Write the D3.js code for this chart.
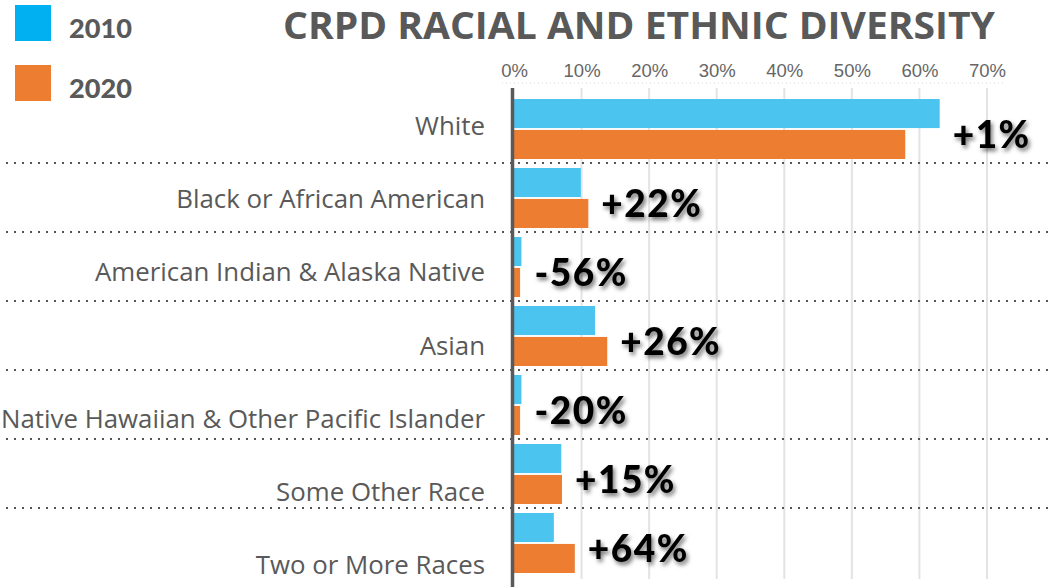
<!DOCTYPE html>
<html>
<head>
<meta charset="utf-8">
<script src="https://cdn.jsdelivr.net/npm/d3@7"></script>
<style>
  body { margin: 0; background: #fff; }
  svg { display: block; }
</style>
</head>
<body>
<div id="chart"></div>
<script>
// data (share of population, %)
var categories = [
  "White",
  "Black or African American",
  "American Indian & Alaska Native",
  "Asian",
  "Native Hawaiian & Other Pacific Islander",
  "Some Other Race",
  "Two or More Races"
];
var years = ["2010", "2020"];
var values2010 = [63.0, 9.9, 1.1, 12.0, 1.1, 7.0, 5.9];
var values2020 = [57.9, 11.0, 0.9, 13.8, 0.9, 7.1, 9.0];
var changeLabels = ["+1%", "+22%", "-56%", "+26%", "-20%", "+15%", "+64%"];
var tickValues = [0, 10, 20, 30, 40, 50, 60, 70];
var titleText = "CRPD RACIAL AND ETHNIC DIVERSITY";

var svgWidth = 1048;
var svgHeight = 587;

var barColors = { "2010": "#4bc5f0", "2020": "#ed7d31" };
var legendColors = { "2010": "#00b0f0", "2020": "#ed7d31" };

var svg = d3.select("#chart")
  .append("svg")
  .attr("width", svgWidth)
  .attr("height", svgHeight);

// drop shadow for the change labels
var defs = svg.append("defs");
defs.append("filter")
  .attr("id", "shadow")
  .attr("x", "-20%").attr("y", "-30%")
  .attr("width", "150%").attr("height", "170%")
  .append("feDropShadow")
  .attr("dx", 2)
  .attr("dy", 3)
  .attr("stdDeviation", 2.2)
  .attr("flood-color", "#000")
  .attr("flood-opacity", 0.55);

// scales
var xScale = d3.scaleLinear()
  .domain([0, 70])
  .range([514, 987]);

var yScale = d3.scaleBand()
  .domain(categories)
  .range([95, 578])
  .padding(0);

var yInner = d3.scaleBand()
  .domain(years)
  .range([4, 64])
  .paddingInner(0.06);

// category labels sit on their own slightly wider grid
var labelScale = d3.scalePoint()
  .domain(categories)
  .range([126, 565]);

// gridlines
svg.append("g")
  .selectAll("line")
  .data(tickValues.slice(1))
  .enter()
  .append("line")
  .attr("x1", d => xScale(d))
  .attr("x2", d => xScale(d))
  .attr("y1", 88)
  .attr("y2", 579)
  .attr("stroke", "#e3e3e3")
  .attr("stroke-width", 2);

// top axis with tick labels
var topAxis = d3.axisTop(xScale)
  .tickValues(tickValues)
  .tickFormat(d => d + "%")
  .tickSize(0)
  .tickPadding(0);

var axisG = svg.append("g")
  .attr("transform", "translate(0, 77)")
  .call(topAxis);
axisG.select(".domain").remove();
axisG.selectAll("text")
  .attr("font-family", "Liberation Sans, Arial, sans-serif")
  .attr("font-size", "18.5px")
  .attr("fill", "#666");

// faint dotted rule under the tick labels
svg.append("line")
  .attr("x1", xScale(0) - 12)
  .attr("x2", xScale(70) + 18)
  .attr("y1", 83)
  .attr("y2", 83)
  .attr("stroke", "#d8d8d8")
  .attr("stroke-width", 1)
  .attr("stroke-dasharray", "1,3");

// row separators
svg.append("g")
  .selectAll("line")
  .data(categories.slice(1))
  .enter()
  .append("line")
  .attr("x1", 6)
  .attr("x2", 1048)
  .attr("y1", d => yScale(d) - 1)
  .attr("y2", d => yScale(d) - 1)
  .attr("stroke", "#555")
  .attr("stroke-width", 2)
  .attr("stroke-dasharray", "2,6");

// bars
var rows = categories.map(function(c, i) {
  return { cat: c, "2010": values2010[i], "2020": values2020[i], change: changeLabels[i] };
});

var rowGroups = svg.append("g")
  .selectAll("g")
  .data(rows)
  .enter()
  .append("g")
  .attr("transform", d => `translate(0, ${yScale(d.cat)})`);

rowGroups.selectAll("rect")
  .data(d => years.map(y => ({ year: y, value: d[y] })))
  .enter()
  .append("rect")
  .attr("x", xScale(0))
  .attr("y", d => yInner(d.year))
  .attr("width", d => xScale(d.value) - xScale(0))
  .attr("height", yInner.bandwidth())
  .attr("fill", d => barColors[d.year]);

// vertical axis line
svg.append("line")
  .attr("x1", 512.5)
  .attr("x2", 512.5)
  .attr("y1", 88)
  .attr("y2", 587)
  .attr("stroke", "#5a5a5a")
  .attr("stroke-width", 3.5);

// change labels
svg.append("g")
  .selectAll("text")
  .data(rows)
  .enter()
  .append("text")
  .attr("x", d => xScale(Math.max(d["2010"], d["2020"])) + 13)
  .attr("y", d => yScale(d.cat) + yScale.bandwidth() / 2 + 6)
  .attr("dy", "0.35em")
  .attr("font-family", "Lato, 'Open Sans', sans-serif")
  .attr("font-weight", 900)
  .attr("font-size", "37px")
  .attr("letter-spacing", "1.5px")
  .attr("fill", "#000")
  .attr("filter", "url(#shadow)")
  .text(d => d.change);

// category labels, sized so the longest fits the space left of the axis
var catLabels = svg.append("g")
  .selectAll("text")
  .data(categories)
  .enter()
  .append("text")
  .attr("x", 485)
  .attr("y", d => labelScale(d))
  .attr("dy", "0.35em")
  .attr("text-anchor", "end")
  .attr("font-family", "'Open Sans', sans-serif")
  .attr("font-size", "25px")
  .attr("fill", "#595959")
  .text(d => d);

var longest = d3.max(catLabels.nodes(), n => n.getComputedTextLength());
var catSize = 25 * 484 / longest;
catLabels.attr("font-size", catSize + "px");

// title
svg.append("text")
  .attr("x", 283)
  .attr("y", 39)
  .attr("font-family", "'Open Sans', sans-serif")
  .attr("font-weight", 700)
  .attr("font-size", "37px")
  .attr("fill", "#595959")
  .attr("textLength", 712)
  .attr("lengthAdjust", "spacingAndGlyphs")
  .text(titleText);

// legend
var legend = svg.append("g")
  .selectAll("g")
  .data(years)
  .enter()
  .append("g")
  .attr("transform", (d, i) => `translate(15, ${5 + i * 60})`);

legend.append("rect")
  .attr("width", 36)
  .attr("height", 36)
  .attr("fill", d => legendColors[d]);

legend.append("text")
  .attr("x", 54)
  .attr("y", 33)
  .attr("font-family", "Lato, sans-serif")
  .attr("font-weight", 900)
  .attr("font-size", "26px")
  .attr("fill", "#595959")
  .attr("textLength", 63)
  .attr("lengthAdjust", "spacingAndGlyphs")
  .text(d => d);
</script>
</body>
</html>
